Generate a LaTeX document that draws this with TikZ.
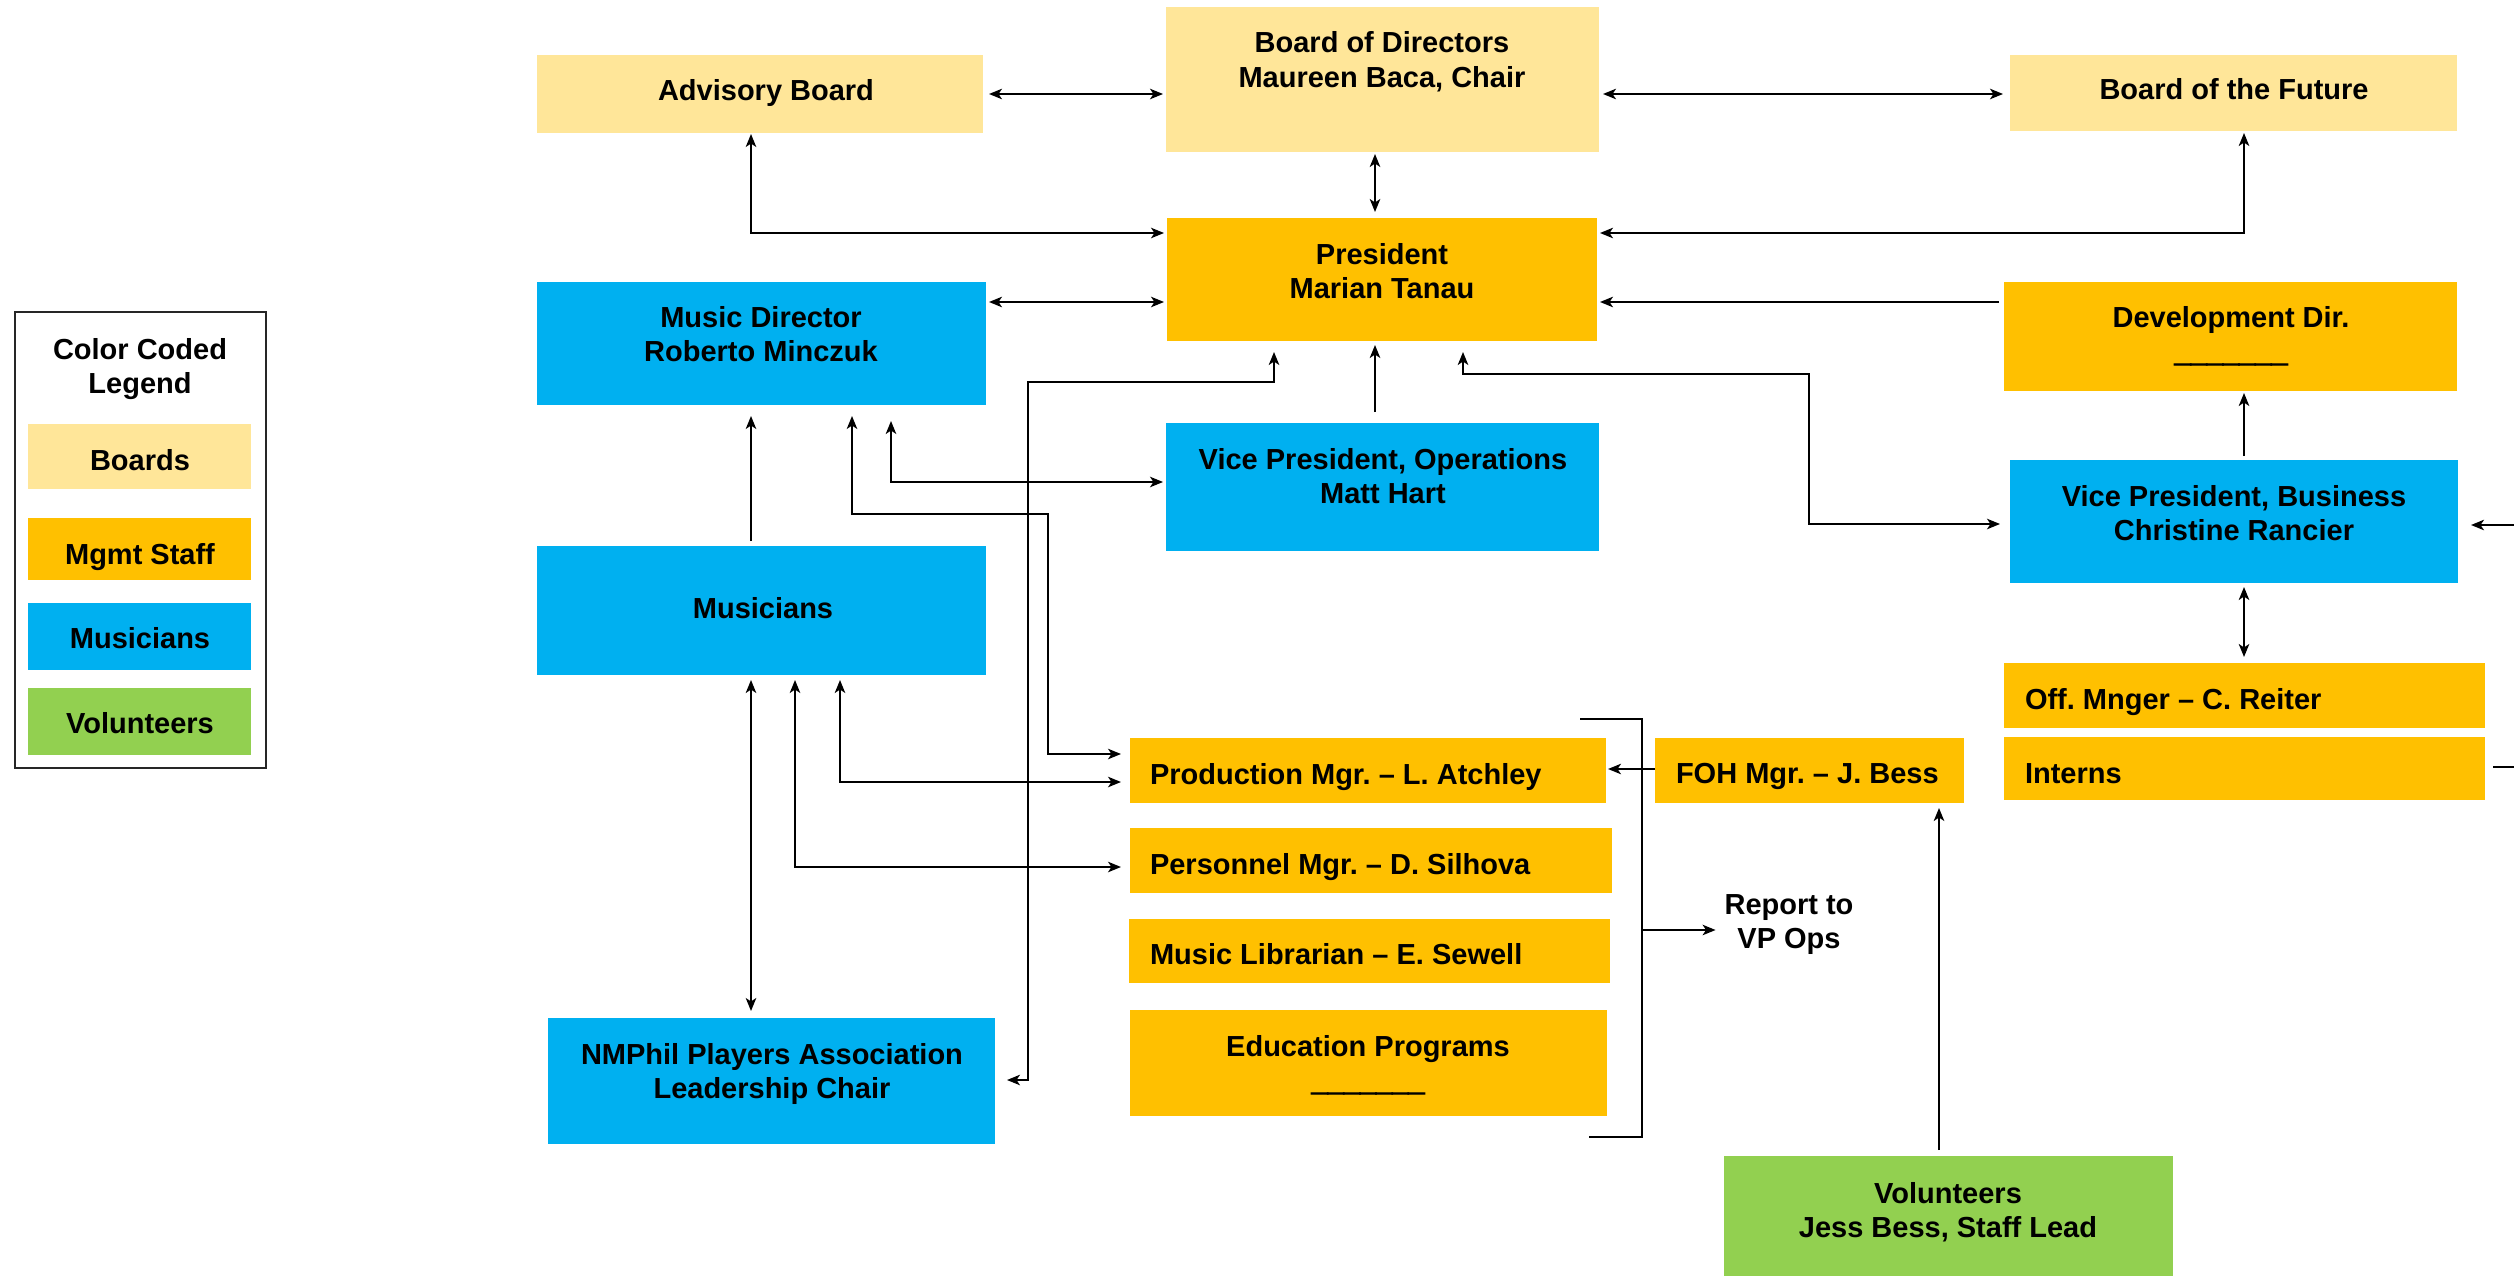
\documentclass[tikz,border=0pt]{standalone}
\usepackage{fontspec}
\setmainfont{Liberation Sans}
\usetikzlibrary{arrows.meta}
\definecolor{boardc}{HTML}{FFE699}
\definecolor{mgmtc}{HTML}{FFC000}
\definecolor{musc}{HTML}{00B0F0}
\definecolor{volc}{HTML}{92D050}
\frenchspacing
\newcommand{\blankline}{{\addfontfeature{FakeBold=4}\_\_\_\_\_\_\_}}
\tikzset{
  box/.style 2 args={anchor=north west, inner sep=0pt, outer sep=0pt, draw=none, minimum width=#1pt, minimum height=#2pt},
  lbl/.style={inner sep=0pt, outer sep=0pt, font=\bfseries\fontsize{29pt}{34.5pt}\selectfont, align=center, anchor=base},
  lbll/.style={lbl, align=left, anchor=base west},
  con/.style={line width=1.8pt, draw=black, line join=miter},
  >={Stealth[length=13pt,width=10.5pt,inset=3.5pt]}
}
\begin{document}
\begin{tikzpicture}[x=1pt,y=-1pt]
\useasboundingbox (0,0) rectangle (2514,1276);
\fill[white] (0,0) rectangle (2514,1276);
% legend
\node[box={251}{456}, draw=black!85, line width=1.5pt] (leg) at (15,312) {};
\node[box={223}{65}, fill=boardc] (legb) at (28,424) {};
\node[box={223}{62}, fill=mgmtc] (legm) at (28,518) {};
\node[box={223}{67}, fill=musc] (legu) at (28,603) {};
\node[box={223}{67}, fill=volc] (legv) at (28,688) {};
% boxes
\node[box={446}{78}, fill=boardc] (adv) at (537,55) {};
\node[box={433}{145}, fill=boardc] (bod) at (1166,7) {};
\node[box={447}{76}, fill=boardc] (bof) at (2010,55) {};
\node[box={430}{123}, fill=mgmtc] (pres) at (1167,218) {};
\node[box={449}{123}, fill=musc] (md) at (537,282) {};
\node[box={453}{109}, fill=mgmtc] (dev) at (2004,282) {};
\node[box={433}{128}, fill=musc] (vpo) at (1166,423) {};
\node[box={448}{123}, fill=musc] (vpb) at (2010,460) {};
\node[box={449}{129}, fill=musc] (mus) at (537,546) {};
\node[box={481}{65}, fill=mgmtc] (off) at (2004,663) {};
\node[box={481}{63}, fill=mgmtc] (int) at (2004,737) {};
\node[box={476}{65}, fill=mgmtc] (prod) at (1130,738) {};
\node[box={309}{65}, fill=mgmtc] (foh) at (1655,738) {};
\node[box={482}{65}, fill=mgmtc] (pers) at (1130,828) {};
\node[box={481}{64}, fill=mgmtc] (lib) at (1129,919) {};
\node[box={477}{106}, fill=mgmtc] (edu) at (1130,1010) {};
\node[box={447}{126}, fill=musc] (nmp) at (548,1018) {};
\node[box={449}{125}, fill=volc] (vol) at (1724,1156) {};
% texts (for two-line texts the base anchor is the last line)
\node[lbl] (leg-t) at (140,393.5) {Color Coded\\Legend};
\node[lbl] (legb-t) at (140,470) {Boards};
\node[lbl] (legm-t) at (140,564) {Mgmt Staff};
\node[lbl] (legu-t) at (140,648) {Musicians};
\node[lbl] (legv-t) at (140,733) {Volunteers};
\node[lbl] (adv-t) at (766,101) {Advisory Board};
\node[lbl] (bod-t) at (1382,87.5) {Board of Directors\\Maureen Baca, Chair};
\node[lbl] (bof-t) at (2234,100) {Board of the Future};
\node[lbl] (pres-t) at (1382,298.5) {President\\Marian Tanau};
\node[lbl] (md-t) at (761,361.5) {Music Director\\Roberto Minczuk};
\node[lbl] (dev-t) at (2231,361.5) {Development Dir.\\\blankline};
\node[lbl] (vpo-t) at (1383,503.5) {Vice President, Operations\\Matt Hart};
\node[lbl] (vpb-t) at (2234,540.5) {Vice President, Business\\Christine Rancier};
\node[lbl] (mus-t) at (763,618) {Musicians};
\node[lbll] (off-t) at (2025,709) {Off. Mnger – C. Reiter};
\node[lbll] (int-t) at (2025,783) {Interns};
\node[lbll] (prod-t) at (1150,784) {Production Mgr. – L. Atchley};
\node[lbll] (foh-t) at (1676,783) {FOH Mgr. – J. Bess};
\node[lbll] (pers-t) at (1150,874) {Personnel Mgr. – D. Silhova};
\node[lbll] (lib-t) at (1150,964) {Music Librarian – E. Sewell};
\node[lbl] (edu-t) at (1368,1090.5) {Education Programs\\\blankline};
\node[lbl] (rep) at (1789,948.5) {Report to\\VP Ops};
\node[lbl] (nmp-t) at (772,1098.5) {NMPhil Players Association\\Leadership Chair};
\node[lbl] (vol-t) at (1948,1237.5) {Volunteers\\Jess Bess, Staff Lead};
% connectors
\draw[con,<->,shorten <=6pt,shorten >=3pt] (adv.east |- 0,94) -- (bod.west |- 0,94);
\draw[con,<->,shorten <=4pt,shorten >=7pt] (bod.east |- 0,94) -- (bof.west |- 0,94);
\draw[con,<->,shorten <=2pt,shorten >=6pt] (bod.south -| 1375,0) -- (pres.north -| 1375,0);
\draw[con,<->,shorten <=1pt,shorten >=3pt] (adv.south -| 751,0) -- (751,233) -- (pres.west |- 0,233);
\draw[con,<->,shorten <=2pt,shorten >=3pt] (bof.south -| 2244,0) -- (2244,233) -- (pres.east |- 0,233);
\draw[con,<->,shorten <=3pt,shorten >=3pt] (md.east |- 0,302) -- (pres.west |- 0,302);
\draw[con,->,shorten <=5pt,shorten >=3pt] (dev.west |- 0,302) -- (pres.east |- 0,302);
\draw[con,->,shorten <=4pt,shorten >=2pt] (vpb.north -| 2244,0) -- (dev.south -| 2244,0);
\draw[con,->,shorten <=11pt,shorten >=4pt] (vpo.north -| 1375,0) -- (pres.south -| 1375,0);
\draw[con,<->,shorten <=11pt,shorten >=10pt] (pres.south -| 1463,0) -- (1463,374) -- (1809,374) -- (1809,524) -- (vpb.west |- 0,524);
\draw[con,<->,shorten <=16pt,shorten >=3pt] (md.south -| 891,0) -- (891,482) -- (vpo.west |- 0,482);
\draw[con,<->,shorten <=11pt,shorten >=9pt] (md.south -| 852,0) -- (852,514) -- (1048,514) -- (1048,754) -- (prod.west |- 0,754);
\draw[con,->,shorten <=5pt,shorten >=11pt] (mus.north -| 751,0) -- (md.south -| 751,0);
\draw[con,<->,shorten <=5pt,shorten >=7pt] (mus.south -| 751,0) -- (nmp.north -| 751,0);
\draw[con,<->,shorten <=5pt,shorten >=9pt] (mus.south -| 840,0) -- (840,782) -- (prod.west |- 0,782);
\draw[con,<->,shorten <=5pt,shorten >=9pt] (mus.south -| 795,0) -- (795,867) -- (pers.west |- 0,867);
\draw[con,<->,shorten <=11pt,shorten >=12pt] (pres.south -| 1274,0) -- (1274,382) -- (1028,382) -- (1028,1080) -- (nmp.east |- 0,1080);
\draw[con,->,shorten >=2pt] (foh.west |- 0,769) -- (prod.east |- 0,769);
\draw[con,->,shorten <=6pt,shorten >=5pt] (vol.north -| 1939,0) -- (foh.south -| 1939,0);
\draw[con,<->,shorten <=4pt,shorten >=6pt] (vpb.south -| 2244,0) -- (off.north -| 2244,0);
% bracket
\coordinate (bt) at (1580,719);
\coordinate (bb) at (1589,1137);
\coordinate (bm) at (1642,930);
\draw[con] (bt) -| (bb -| bm) -- (bb);
\draw[con,->,shorten >=9pt] (bm) -- (rep.west |- bm);
% lines leaving the frame
\coordinate (redge1) at (2514,525);
\coordinate (redge2) at (2514,767);
\draw[con,->,shorten >=13pt] (redge1) -- (vpb.east |- redge1);
\draw[con,shorten >=8pt] (redge2) -- (int.east |- redge2);
\end{tikzpicture}
\end{document}
